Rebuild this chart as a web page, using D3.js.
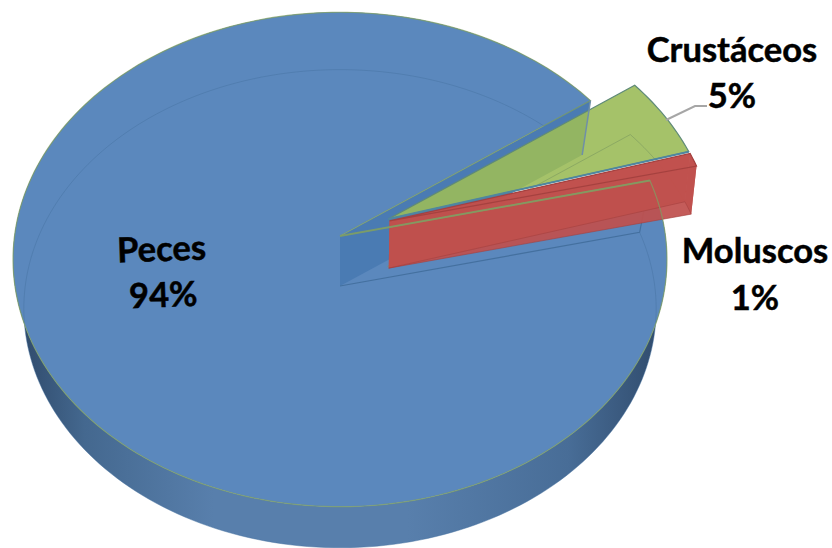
<!DOCTYPE html>
<html>
<head>
<meta charset="utf-8">
<script src="https://cdn.jsdelivr.net/npm/d3@7"></script>
<style>
  html, body { margin: 0; padding: 0; background: #fff; }
  text { font-family: Lato, "Open Sans", sans-serif; font-weight: 700; fill: #000; stroke: #000; stroke-width: 0.5px; }
</style>
</head>
<body>
<svg id="chart" width="832" height="548"></svg>
<script>
// chart values
const categories = ['Crustáceos', 'Moluscos', 'Peces'];
const values = [5.3, 0.9, 93.8];
const explode = [0.165, 0.165, 0];
const explodeDir = [65, 68, 0];
const fills = ['#9bbb59', '#c0504d', '#5b88bd'];

const svg = d3.select('#chart');
const defs = svg.append('defs');
const rad = Math.PI / 180;

// slices, first one starts upper right
const pie = d3.pie().sort(null).startAngle(54.3 * rad).endAngle((54.3 + 360) * rad);
const arcs = pie(values);

// perspective of the disk
const persp = 0.095;
const scaleX = d3.scaleLinear().domain([-1, 1]).range([340 - 325.5, 340 + 325.5]);
const scaleY = d3.scaleLinear().domain([-1, 1]).range([236 - 245, 236 + 245]);
const depthY = d3.scaleLinear().domain([0, 1]).range([0, 50]);
const depthS = d3.scaleLinear().domain([0, 1]).range([1, 0.967]);

const project = (a, r, h, off, s = depthS(h)) => {
  const u = off[0] + r * Math.sin(a);
  const v = off[1] - r * Math.cos(a);
  const w = 1 - persp * v;
  return [
    scaleX(0) + (scaleX(u / w) - scaleX(0)) * s,
    scaleY(0) + depthY(h) + (scaleY(v / w) - scaleY(0)) * s,
  ];
};

const rim = (a0, a1, h, off, s) => {
  const n = Math.max(2, Math.ceil(Math.abs(a1 - a0) * 40));
  return d3.range(n + 1).map((i) => project(a0 + (a1 - a0) * i / n, 1, h, off, s));
};

const closed = d3.line().curve(d3.curveLinearClosed);
const open = d3.line();

// offset of an exploded slice
const offsets = explode.map((e, i) => [e * Math.sin(explodeDir[i] * rad), -e * Math.cos(explodeDir[i] * rad)]);

const [green, red, blue] = arcs;

// side gradient of the big slice
const grad = defs.append('linearGradient')
    .attr('id', 'side')
    .attr('gradientUnits', 'userSpaceOnUse')
    .attr('x1', 20).attr('x2', 665).attr('y1', 0).attr('y2', 0);
[[0, '#2f4a6b'], [0.1, '#44688f'], [0.3, '#587fac'], [0.6, '#587fac'], [0.85, '#486d97'], [1, '#2f4a6b']]
  .forEach(([o, c]) => grad.append('stop').attr('offset', o).attr('stop-color', c));

const base = [0, 0];
const sliceDepth = 0.94;
const sliceShrink = 0.985;
const g = svg.append('g');

// outer wall of peces
g.append('path')
  .attr('d', closed([...rim(blue.startAngle, blue.endAngle, 0, base), ...rim(blue.endAngle, blue.startAngle, 1, base)]))
  .attr('fill', 'url(#side)');

// top of peces
const apexTop = project(0, 0, 0, base);
const apexBot = project(0, 0, 1, base);
const bluePts = [apexTop, ...rim(blue.startAngle, blue.endAngle, 0, base)];
g.append('path')
  .attr('d', closed(bluePts))
  .attr('fill', fills[2]);

// back rim seen through the top
g.append('path')
  .attr('d', open(rim(blue.startAngle, blue.endAngle, 1, base)))
  .attr('fill', 'none')
  .attr('stroke', '#44709f')
  .attr('stroke-opacity', 0.45);

// notch walls
const backOuterTop = project(blue.endAngle, 1, 0, base);
const backOuterBot = project(blue.endAngle, 1, 1, base);
const nearOuterTop = project(blue.startAngle, 1, 0, base);
const nearOuterBot = project(blue.startAngle, 1, 1, base);

g.append('path')
  .attr('d', closed([apexTop, backOuterTop, backOuterBot, apexBot]))
  .attr('fill', '#4a7bb3');
g.append('path')
  .attr('d', open([nearOuterTop, nearOuterBot, apexBot]))
  .attr('fill', 'none')
  .attr('stroke', '#44709f')
  .attr('stroke-width', 1.2);

// exploded slices
[green, red].forEach((d, i) => {
  const off = offsets[i];
  const top = [project(0, 0, 0, off), ...rim(d.startAngle, d.endAngle, 0, off)];
  const bottom = [project(0, 0, sliceDepth, off, sliceShrink), ...rim(d.startAngle, d.endAngle, sliceDepth, off, sliceShrink)];
  const wall = [...rim(d.startAngle, d.endAngle, 0, off), ...rim(d.endAngle, d.startAngle, sliceDepth, off, sliceShrink)];
  const side = [top[0], top[1], bottom[1], bottom[0]];
  const sideEnd = [top[0], top[top.length - 1], bottom[bottom.length - 1], bottom[0]];
  const layer = g.append('g').attr('fill', fills[i]);

  // green has no wall showing, it sits inside its own top
  if (i === 1) {
    layer.append('path').attr('d', closed(sideEnd)).attr('fill-opacity', 0.93);
    layer.append('path').attr('d', closed(side)).attr('fill-opacity', 0.9);
    layer.append('path').attr('d', closed(wall)).attr('fill-opacity', 0.9);
  }
  layer.append('path').attr('d', closed(top)).attr('fill-opacity', 0.9);

  const edge = i === 0 ? '#7c9a5f' : '#a5413f';
  layer.append('path').attr('d', closed(bottom))
    .attr('fill', 'none').attr('stroke', edge).attr('stroke-opacity', 0.6);
  layer.append('path').attr('d', closed(top))
    .attr('fill', 'none').attr('stroke', i === 0 ? '#5f8a78' : '#a5413f').attr('stroke-width', 1.2);

  // blue line along the lower green edge
  if (i === 0) {
    layer.append('path').attr('d', open([top[0], top[top.length - 1]]))
      .attr('fill', 'none').attr('stroke', '#4f86a0').attr('stroke-width', 2);
  }
});

// outlines of the big slice, over everything
g.append('path')
  .attr('d', closed(bluePts))
  .attr('fill', 'none')
  .attr('stroke', '#7f9f63')
  .attr('stroke-width', 1.2)
  .attr('stroke-opacity', 0.75);
g.append('path')
  .attr('d', open([apexTop, nearOuterTop]))
  .attr('fill', 'none')
  .attr('stroke', '#7f9f63')
  .attr('stroke-width', 2)
  .attr('stroke-opacity', 0.8);
g.append('path')
  .attr('d', open([backOuterTop, backOuterBot]))
  .attr('fill', 'none')
  .attr('stroke', '#6f8fa8')
  .attr('stroke-width', 1.5);

// leader line
g.append('path')
  .attr('d', open([[666, 120], [695, 106], [707, 106]]))
  .attr('fill', 'none')
  .attr('stroke', '#a6a6a6')
  .attr('stroke-width', 2);

// labels
const labels = [
  { x: 732, y: 62, dy: 46, rotate: 0 },
  { x: 755, y: 263, dy: 47, rotate: 0 },
  { x: 162, y: 261, dy: 46, rotate: -2 },
];
const label = svg.append('g').selectAll('text')
    .data(arcs)
  .enter()
  .append('text')
    .attr('text-anchor', 'middle')
    .attr('font-size', 34.5)
    .attr('transform', (d, i) => `rotate(${labels[i].rotate} ${labels[i].x} ${labels[i].y})`);

label.append('tspan')
  .attr('x', (d, i) => labels[i].x)
  .attr('y', (d, i) => labels[i].y)
  .text((d, i) => categories[i]);
label.append('tspan')
  .attr('x', (d, i) => labels[i].x)
  .attr('y', (d, i) => labels[i].y + labels[i].dy)
  .text((d) => `${d3.format('.0f')(d.value)}%`);
</script>
</body>
</html>
